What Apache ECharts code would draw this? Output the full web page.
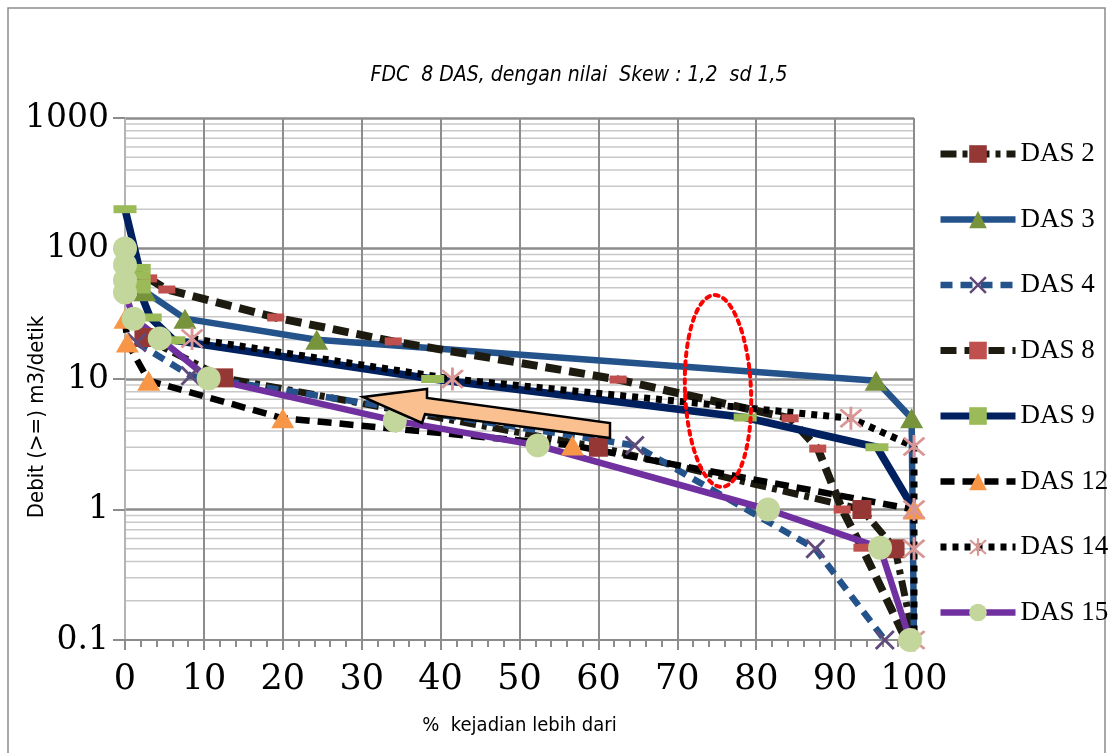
<!DOCTYPE html>
<html><head><meta charset="utf-8">
<script src="https://cdn.jsdelivr.net/npm/echarts@6/dist/echarts.min.js"></script>
<style>html,body{margin:0;padding:0;background:#fff}#c{width:1112px;height:753px}</style>
</head><body><div id="c"></div><script>
// ---- data (percent exceedance, discharge m3/s) ----
const seriesNames = ['DAS 2','DAS 3','DAS 4','DAS 8','DAS 9','DAS 12','DAS 14','DAS 15'];
const das2  = [[2.4,20.8],[12.5,10.2],[60,3.0],[93.4,1.0],[97.6,0.5],[100,0.1]];
const das3  = [[2.5,47],[7.6,29],[24.3,20],[95.2,9.7],[99.7,5.0],[100,0.1]];
const das4  = [[1.5,19],[8.3,10.6],[64.6,3.1],[87.5,0.5],[96.3,0.1]];
const das8  = [[3.0,59],[5.3,48.5],[19.1,29.6],[34,19.4],[62.5,9.9],[84.3,5.0],[87.8,2.93],[90.9,1.0],[93.4,0.51],[99,0.1]];
const das9  = [[0,200],[1.8,71],[1.8,62],[1.8,54],[1.8,48.5],[3.2,29.6],[6.2,19.8],[39,10],[78.6,5.07],[95.3,3.0],[100,1]];
const das12 = [[0,29],[0.3,19],[3,9.7],[20,5.0],[56.7,3.1],[100,1]];
const das14 = [[8.5,20.4],[41.5,10],[92,5.0],[100,3.04],[100,1],[100,0.5],[100,0.1]];
const das15 = [[0,100],[0,75],[0,57],[0,46],[1.1,29],[4.4,20.4],[10.6,10.1],[34.2,4.8],[52.3,3.1],[81.5,1.0],[95.7,0.51],[99.5,0.1]];
const seriesData = [das2, das3, das4, das8, das9, das12, das14, das15];
// points whose marker is hidden behind others (index in each series)
const hiddenMarkers = {'DAS 2':[5],'DAS 3':[5],'DAS 8':[9],'DAS 9':[10]};
const yTickLabels = ['0.1','1','10','100','1000'];
const yDecades = [0.1, 1, 10, 100];
const minorSteps = [2,3,4,5,6,7,8,9];
const titleText = 'FDC  8 DAS, dengan nilai  Skew : 1,2  sd 1,5';
const xName = '%  kejadian lebih dari';
const yName = 'Debit (>=) m3/detik';

// ---- styles ----
const xPath = 'path://M0,2 L2,0 L20,18 L18,20 Z M18,0 L20,2 L2,20 L0,18 Z';
const starPath = 'path://M9,0 L11,0 L11,20 L9,20 Z M2,3 L3.5,1.5 L18,17 L16.5,18.5 Z M16.5,1.5 L18,3 L3.5,18.5 L2,17 Z';
const styles = {
 'DAS 2': {color:'#1D1B10', width:7, type:[16,6,5,6], symbol:'rect', size:[19,19], mcolor:'#953735'},
 'DAS 3': {color:'#24528B', width:6.5, type:'solid', symbol:'triangle', size:[23,20], mcolor:'#77933C'},
 'DAS 4': {color:'#24528B', width:6.5, type:[12,8], symbol:xPath, size:20, mcolor:'#604A7B'},
 'DAS 8': {color:'#1D1B10', width:8, type:[16,8], symbol:'rect', size:[17,8], mcolor:'#C0504D'},
 'DAS 9': {color:'#002060', width:7.5, type:'solid', symbol:'rect', size:[23,8], mcolor:'#9BBB59'},
 'DAS 12': {color:'#000000', width:6.5, type:[14,8], symbol:'triangle', size:[23,20], mcolor:'#F79646'},
 'DAS 14': {color:'#000000', width:7, type:[6,6], symbol:starPath, size:23, mcolor:'#D99694'},
 'DAS 15': {color:'#7030A0', width:6.5, type:'solid', symbol:'circle', size:24, mcolor:'#C3D69B'}
};

const minorLines = [];
yDecades.forEach(d => minorSteps.forEach(s => minorLines.push([0, +(d*s).toPrecision(3)])));

const series = seriesNames.map((name, i) => {
  const st = styles[name];
  const hid = hiddenMarkers[name] || [];
  return {
    name, type:'line', z:3,
    data: seriesData[i].map((p, j) => hid.includes(j) ? {value:p, symbol:'none'} : p),
    symbol: st.symbol, symbolSize: st.size, showAllSymbol:true,
    lineStyle:{color:st.color, width:st.width, type:st.type, cap:'butt'},
    itemStyle:{color:st.mcolor, borderWidth:0},
    emphasis:{disabled:true}, clip:false
  };
});
series.unshift({
  type:'custom', z:0, silent:true, data:minorLines, encode:{x:0,y:1},
  renderItem:(params, api) => {
    const v = api.value(1);
    const a = api.coord([0, v]), b = api.coord([100, v]);
    return {type:'line', shape:{x1:a[0],y1:a[1],x2:b[0],y2:b[1]}, style:{stroke:'#c8c8c8', lineWidth:1.5}};
  }
});

const sansNarrow = "'Liberation Sans Narrow','DejaVu Sans Condensed','Open Sans',sans-serif";
const chart = echarts.init(document.getElementById('c'), null, {renderer:'canvas'});
chart.setOption({
  animation:false,
  backgroundColor:'#fff',
  title:{text:titleText, left:574, top:60, textAlign:'center',
    textStyle:{fontFamily:sansNarrow, fontStyle:'italic', fontWeight:'normal', fontSize:21, color:'#000'}},
  grid:{left:125, right:198, top:118, bottom:113},
  legend:{data:seriesNames.map(n => ({name:n, lineStyle:{width:Math.min(styles[n].width, 7)}})),
    orient:'vertical', left:932, top:134, itemWidth:75, itemHeight:22, itemGap:35.5,
    textStyle:{fontFamily:"'Liberation Serif',serif", fontSize:27, color:'#000', lineHeight:30}},
  xAxis:{type:'value', min:0, max:100, interval:10, z:1,
    name:xName, nameLocation:'middle', nameGap:76,
    nameTextStyle:{fontFamily:sansNarrow, fontSize:20, color:'#000'},
    axisLine:{lineStyle:{color:'#8c8c8c', width:2}},
    axisTick:{show:true, length:10, lineStyle:{color:'#8c8c8c', width:2}},
    minorTick:{show:true, splitNumber:5, length:7, lineStyle:{color:'#8c8c8c', width:2}},
    axisLabel:{fontFamily:"'DejaVu Serif',serif", fontSize:35, color:'#000', margin:22},
    splitLine:{show:true, showMinLine:false, lineStyle:{color:'#8c8c8c', width:2}}},
  yAxis:{type:'log', logBase:10, min:0.1, max:1000, z:1,
    axisLine:{show:true, lineStyle:{color:'#b4b4b4', width:2}},
    axisTick:{show:true, length:12, lineStyle:{color:'#8c8c8c', width:2}},
    axisLabel:{fontFamily:"'DejaVu Serif',serif", fontSize:33, color:'#000', margin:16,
      formatter:v => yTickLabels[Math.round(Math.log10(v)) + 1]},
    splitLine:{show:true, showMinLine:false, lineStyle:{color:'#8c8c8c', width:2.5}}},
  graphic:[
    {type:'rect', z:-1, shape:{x:8, y:8, width:1097, height:770}, style:{fill:null, stroke:'#8c8c8c', lineWidth:1.5}, silent:true},
    {type:'text', z:10, x:37, y:417, rotation:Math.PI/2,
      style:{text:yName, fontFamily:sansNarrow, fontSize:22, fill:'#000', textAlign:'center', textVerticalAlign:'middle'}, silent:true},
    {type:'polygon', z:100, shape:{points:[[363,397],[427,389],[427,398],[610,423],[610,438],[425,414],[422,423]]},
      style:{fill:'#FAC090', stroke:'#000', lineWidth:2.5, lineJoin:'miter'}, silent:true},
    {type:'ellipse', z:100, shape:{cx:718, cy:391, rx:33, ry:96}, rotation:0.04, originX:718, originY:391,
      style:{fill:null, stroke:'#ff0000', lineWidth:4, lineDash:[4,5], lineCap:'round'}, silent:true}
  ],
  series
});
</script></body></html>
